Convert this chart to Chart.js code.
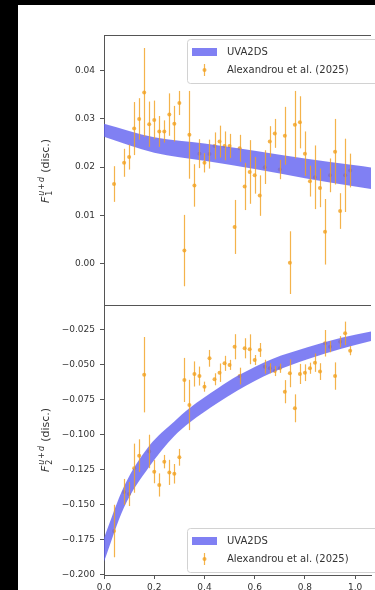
<!DOCTYPE html>
<html>
<head>
<meta charset="utf-8">
<script src="https://cdn.jsdelivr.net/npm/chart.js@4.4.1/dist/chart.umd.min.js"></script>
<style>
    html, body { margin: 0; padding: 0; width: 375px; height: 590px; background: #000; overflow: hidden; }
    #sheet { position: absolute; left: 18px; top: 5px; width: 357px; height: 585px; background: #fff; }
    .panel { position: absolute; left: 18px; width: 357px; }
    #panel-f1 { top: 0; height: 311px; }
    #panel-f2 { top: 295px; height: 310px; }
</style>
</head>
<body>
<div id="sheet"></div>
<div class="panel" id="panel-f1"><canvas id="chart-f1"></canvas></div>
<div class="panel" id="panel-f2"><canvas id="chart-f2"></canvas></div>
<script>
    "use strict";

    // tick positions
    var xTicks = [0.0, 0.2, 0.4, 0.6, 0.8, 1.0];
    var f1Ticks = [0.00, 0.01, 0.02, 0.03, 0.04];
    var f2Ticks = [-0.200, -0.175, -0.150, -0.125, -0.100, -0.075, -0.050, -0.025];

    // lattice points, F1
    var f1X = [0.04, 0.08, 0.10, 0.12, 0.14, 0.16, 0.18, 0.20, 0.22, 0.24, 0.26, 0.28, 0.30, 0.32, 0.34, 0.36,
        0.38, 0.40, 0.42, 0.44, 0.46, 0.48, 0.50, 0.52, 0.54, 0.56, 0.58, 0.60, 0.62, 0.64, 0.66, 0.68,
        0.70, 0.72, 0.74, 0.76, 0.78, 0.80, 0.82, 0.84, 0.86, 0.88, 0.90, 0.92, 0.94, 0.96, 0.98];
    var f1Val = [0.0165, 0.0209, 0.0221, 0.0280, 0.0300, 0.0355, 0.0289, 0.0298, 0.0274, 0.0274, 0.0309, 0.0290,
        0.0333, 0.0027, 0.0267, 0.0162, 0.0228, 0.0209, 0.0227, 0.0244, 0.0253, 0.0244, 0.0244, 0.0076,
        0.0239, 0.0160, 0.0190, 0.0183, 0.0141, 0.0200, 0.0253, 0.0270, 0.0195, 0.0265, 0.0002, 0.0288,
        0.0293, 0.0228, 0.0171, 0.0179, 0.0157, 0.0066, 0.0183, 0.0232, 0.0109, 0.0183, 0.0193];
    var f1Err = [0.0037, 0.0029, 0.0026, 0.0055, 0.0043, 0.0092, 0.0047, 0.0040, 0.0032, 0.0023, 0.0044, 0.0037,
        0.0025, 0.0074, 0.0091, 0.0044, 0.0030, 0.0020, 0.0030, 0.0028, 0.0033, 0.0030, 0.0025, 0.0056,
        0.0028, 0.0049, 0.0066, 0.0038, 0.0042, 0.0035, 0.0032, 0.0030, 0.0020, 0.0060, 0.0065, 0.0070,
        0.0054, 0.0046, 0.0032, 0.0066, 0.0040, 0.0068, 0.0035, 0.0068, 0.0037, 0.0076, 0.0035];

    // lattice points, F2
    var f2X = f1X.slice();
    var f2Val = [-0.1690, -0.1410, -0.1425, -0.1240, -0.1150, -0.0570, -0.1120, -0.1265, -0.1360, -0.1193, -0.1270, -0.1280,
        -0.1162, -0.0608, -0.0787, -0.0565, -0.0580, -0.0656, -0.0453, -0.0603, -0.0556, -0.0489, -0.0500, -0.0370,
        -0.0580, -0.0381, -0.0388, -0.0465, -0.0393, -0.0513, -0.0524, -0.0544, -0.0524, -0.0692, -0.0560, -0.0811,
        -0.0565, -0.0556, -0.0524, -0.0484, -0.0548, -0.0345, -0.0370, -0.0580, -0.0334, -0.0274, -0.0398];
    var f2Err = [0.0188, 0.0093, 0.0086, 0.0176, 0.0117, 0.0270, 0.0120, 0.0083, 0.0083, 0.0048, 0.0090, 0.0070,
        0.0060, 0.0158, 0.0180, 0.0090, 0.0068, 0.0036, 0.0060, 0.0043, 0.0066, 0.0054, 0.0036, 0.0090,
        0.0060, 0.0072, 0.0107, 0.0036, 0.0050, 0.0050, 0.0036, 0.0036, 0.0033, 0.0083, 0.0100, 0.0100,
        0.0072, 0.0060, 0.0040, 0.0066, 0.0060, 0.0095, 0.0040, 0.0098, 0.0040, 0.0084, 0.0033];

    // UVA2DS bands (upper / lower edge)
    var band1X = [0.0, 0.2, 0.4, 0.6, 0.8, 1.0, 1.07];
    var band1Hi = [0.0290, 0.0262, 0.0249, 0.0234, 0.0218, 0.0204, 0.0199];
    var band1Lo = [0.0263, 0.0230, 0.0213, 0.0196, 0.0177, 0.0160, 0.0154];

    var band2X = [0.0, 0.08, 0.18, 0.28, 0.34, 0.455, 0.53, 0.67, 0.81, 0.945, 1.07];
    var band2Hi = [-0.1740, -0.1370, -0.1080, -0.0905, -0.0810, -0.0665, -0.0580, -0.0457, -0.0373, -0.0305, -0.0258];
    var band2Lo = [-0.1910, -0.1520, -0.1230, -0.1010, -0.0915, -0.0770, -0.0685, -0.0555, -0.0460, -0.0385, -0.0325];

    var FONT = '"DejaVu Sans", sans-serif';
    var INK = '#333';
    var SPINE = '#555';
    var BAND = 'rgba(96, 96, 240, 0.8)';
    var ORANGE = 'rgba(242, 162, 35, 0.82)';

    var toPoints = function (xs, ys) {
        return xs.map(function (x, i) { return { x: x, y: ys[i] }; });
    };

    // vertical error bars for datasets carrying an errorBars array
    var errorBarPlugin = {
        id: 'errorBars',
        afterDatasetsDraw: function (chart) {
            var ctx = chart.ctx;
            var xs = chart.scales.x, ys = chart.scales.y, ca = chart.chartArea;
            ctx.save();
            ctx.beginPath();
            ctx.rect(ca.left, ca.top, ca.right - ca.left, ca.bottom - ca.top);
            ctx.clip();
            chart.data.datasets.forEach(function (ds) {
                if (!ds.errorBars) {
                    return;
                }
                ctx.strokeStyle = ds.pointBackgroundColor;
                ctx.lineWidth = 1.2;
                ds.data.forEach(function (p, i) {
                    var e = ds.errorBars[i];
                    var px = Math.round(xs.getPixelForValue(p.x)) + 0.5;
                    ctx.beginPath();
                    ctx.moveTo(px, ys.getPixelForValue(p.y + e));
                    ctx.lineTo(px, ys.getPixelForValue(p.y - e));
                    ctx.stroke();
                });
            });
            ctx.restore();
        }
    };

    // top spine (left/bottom come from the axis borders)
    var frameTopPlugin = {
        id: 'frameTop',
        afterDraw: function (chart) {
            var ctx = chart.ctx, ca = chart.chartArea;
            ctx.save();
            ctx.strokeStyle = SPINE;
            ctx.lineWidth = 1;
            ctx.beginPath();
            ctx.moveTo(ca.left, Math.round(ca.top) + 0.5);
            ctx.lineTo(ca.right, Math.round(ca.top) + 0.5);
            ctx.stroke();
            ctx.restore();
        }
    };

    // F_n^{u+d} (disc.) rotated axis title
    var axisTitlePlugin = function (index) {
        return {
            id: 'axisTitle',
            afterDraw: function (chart) {
                var ctx = chart.ctx, ca = chart.chartArea;
                var bigIt = 'italic 11px ' + FONT, big = '11px ' + FONT;
                var smIt = 'italic 8px ' + FONT, sm = '8px ' + FONT;
                ctx.save();
                ctx.font = bigIt;
                var wF = ctx.measureText('F').width;
                ctx.font = smIt;
                var wu = ctx.measureText('u').width, wd = ctx.measureText('d').width;
                ctx.font = sm;
                var wp = ctx.measureText('+').width, wi = ctx.measureText(index).width;
                var wSup = wu + wp + wd + 2;
                ctx.font = big;
                var wDisc = ctx.measureText('(disc.)').width;
                var total = wF + 1 + Math.max(wSup, wi) + 4 + wDisc;

                ctx.translate(27, (ca.top + ca.bottom) / 2);
                ctx.rotate(-Math.PI / 2);
                ctx.fillStyle = INK;
                ctx.textBaseline = 'alphabetic';
                ctx.textAlign = 'left';
                var x = -total / 2, base = 4;
                ctx.font = bigIt;
                ctx.fillText('F', x, base);
                var sx = x + wF + 1;
                ctx.font = smIt;
                ctx.fillText('u', sx, base - 5);
                ctx.font = sm;
                ctx.fillText('+', sx + wu + 1, base - 5);
                ctx.font = smIt;
                ctx.fillText('d', sx + wu + wp + 2, base - 5);
                ctx.font = sm;
                ctx.fillText(index, sx, base + 3);
                ctx.font = big;
                ctx.fillText('(disc.)', sx + Math.max(wSup, wi) + 4, base);
                ctx.restore();
            }
        };
    };

    // framed legend inside the plot area
    var boxLegendPlugin = function (anchor) {
        return {
            id: 'boxLegend',
            afterDraw: function (chart) {
                var ctx = chart.ctx, ca = chart.chartArea;
                var w = 220, h = 44;
                var x = ca.left + 83;
                var y = anchor === 'top' ? ca.top + 4 : ca.bottom - 3 - h;
                var band = chart.data.datasets[1], pts = chart.data.datasets[2];
                ctx.save();
                ctx.beginPath();
                ctx.roundRect(x + 0.5, y + 0.5, w, h, 3);
                ctx.fillStyle = 'rgba(255, 255, 255, 0.8)';
                ctx.fill();
                ctx.strokeStyle = '#d2d2d2';
                ctx.lineWidth = 1;
                ctx.stroke();

                var r1 = y + 13, r2 = y + 31;
                ctx.fillStyle = band.backgroundColor;
                ctx.fillRect(x + 5, r1 - 4, 25, 8);

                ctx.strokeStyle = pts.pointBackgroundColor;
                ctx.lineWidth = 1.2;
                ctx.beginPath();
                ctx.moveTo(x + 17.5, r2 - 6);
                ctx.lineTo(x + 17.5, r2 + 6);
                ctx.stroke();
                ctx.fillStyle = pts.pointBackgroundColor;
                ctx.beginPath();
                ctx.arc(x + 17.5, r2, 2, 0, Math.PI * 2);
                ctx.fill();

                ctx.fillStyle = INK;
                ctx.font = '10px ' + FONT;
                ctx.textBaseline = 'middle';
                ctx.fillText(band.label, x + 40, r1);
                ctx.fillText(pts.label, x + 40, r2);
                ctx.restore();
            }
        };
    };

    var noPadding = function (scale) {
        scale.paddingTop = 0;
        scale.paddingBottom = 0;
        scale.paddingLeft = 0;
        scale.paddingRight = 0;
    };

    var makePanel = function (canvasId, opts) {
        var ctx = document.getElementById(canvasId).getContext('2d');
        return new Chart(ctx, {
            type: 'line',
            data: {
                datasets: [{
                        label: 'UVA2DS upper',
                        data: toPoints(opts.bandX, opts.bandHi),
                        borderWidth: 0,
                        pointRadius: 0,
                        fill: false,
                        cubicInterpolationMode: 'monotone'
                    },
                    {
                        label: 'UVA2DS',
                        data: toPoints(opts.bandX, opts.bandLo),
                        borderWidth: 0,
                        pointRadius: 0,
                        backgroundColor: BAND,
                        fill: '-1',
                        cubicInterpolationMode: 'monotone'
                    },
                    {
                        label: 'Alexandrou et al. (2025)',
                        data: toPoints(opts.x, opts.val),
                        errorBars: opts.err,
                        showLine: false,
                        pointRadius: 2,
                        pointBorderWidth: 0,
                        pointBackgroundColor: ORANGE
                    }
                ]
            },
            options: {
                responsive: true,
                maintainAspectRatio: false,
                animation: false,
                events: [],
                layout: { padding: opts.padding },
                plugins: {
                    legend: { display: false },
                    tooltip: { enabled: false }
                },
                scales: {
                    x: {
                        type: 'linear',
                        min: 0,
                        max: 1.063,
                        display: opts.showX,
                        afterBuildTicks: function (s) {
                            s.ticks = xTicks.map(function (v) { return { value: v }; });
                        },
                        afterFit: function (s) {
                            noPadding(s);
                            s.height = opts.showX ? 30 : 0;
                        },
                        grid: { drawOnChartArea: false, drawTicks: true, tickLength: 4, color: SPINE },
                        border: { display: true, color: SPINE },
                        ticks: {
                            padding: 3,
                            maxRotation: 0,
                            color: INK,
                            font: { family: FONT, size: 9 },
                            callback: function (v) { return v.toFixed(1); }
                        }
                    },
                    y: {
                        type: 'linear',
                        min: opts.yMin,
                        max: opts.yMax,
                        afterBuildTicks: function (s) {
                            s.ticks = opts.ticks.map(function (v) { return { value: v }; });
                        },
                        afterFit: function (s) {
                            noPadding(s);
                            s.width = 86;
                        },
                        grid: { drawOnChartArea: false, drawTicks: true, tickLength: 4, color: SPINE },
                        border: { display: true, color: SPINE },
                        ticks: {
                            padding: 5,
                            color: INK,
                            font: { family: FONT, size: 9 },
                            callback: function (v) { return v.toFixed(opts.digits).replace('-', '\u2212'); }
                        }
                    }
                }
            },
            plugins: [errorBarPlugin, frameTopPlugin, axisTitlePlugin(opts.index), boxLegendPlugin(opts.legendAt)]
        });
    };

    makePanel('chart-f1', {
        x: f1X, val: f1Val, err: f1Err,
        bandX: band1X, bandHi: band1Hi, bandLo: band1Lo,
        ticks: f1Ticks, yMin: -0.0090, yMax: 0.0474, digits: 2,
        showX: false, padding: { top: 35, bottom: 0, left: 0, right: 0 },
        index: '1', legendAt: 'top'
    });

    makePanel('chart-f2', {
        x: f2X, val: f2Val, err: f2Err,
        bandX: band2X, bandHi: band2Hi, bandLo: band2Lo,
        ticks: f2Ticks, yMin: -0.2005, yMax: -0.0071, digits: 3,
        showX: true, padding: { top: 10, bottom: 0, left: 0, right: 0 },
        index: '2', legendAt: 'bottom'
    });
</script>
</body>
</html>
